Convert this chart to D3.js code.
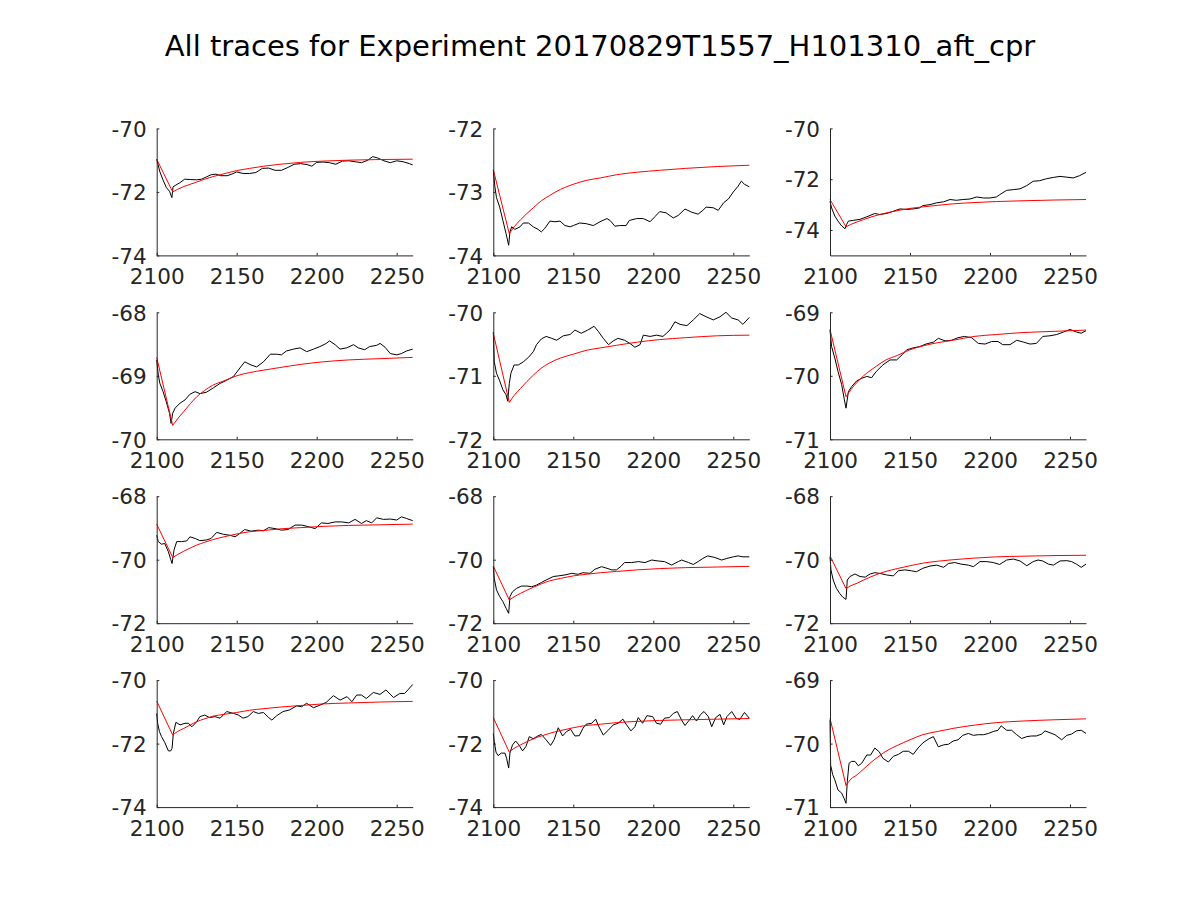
<!DOCTYPE html>
<html>
<head>
<meta charset="utf-8">
<script src="https://cdn.jsdelivr.net/npm/d3@7"></script>
<style>
  html, body { margin: 0; padding: 0; background: #fff; }
  svg { display: block; font-family: "DejaVu Sans", sans-serif; }
</style>
</head>
<body>
<svg id="chart" width="1200" height="900"></svg>
<script>
// ---------------- data ----------------
const titleText = "All traces for Experiment 20170829T1557_H101310_aft_cpr";
const xDomain = [2100, 2260];
const xTicks = [2100, 2150, 2200, 2250];

const yDomains = [
  [-74, -70], [-74, -72], [-75, -70],
  [-70, -68], [-72, -70], [-71, -69],
  [-72, -68], [-72, -68], [-72, -68],
  [-74, -70], [-74, -70], [-71, -69]
];
const yTicks = [
  [-74, -72, -70], [-74, -73, -72], [-74, -72, -70],
  [-70, -69, -68], [-72, -71, -70], [-71, -70, -69],
  [-72, -70, -68], [-72, -70, -68], [-72, -70, -68],
  [-74, -72, -70], [-74, -72, -70], [-71, -70, -69]
];

// recorded traces (time ms, membrane potential mV)
const trace1 = [[2100,-70.97],[2102,-71.37],[2104,-71.63],[2106,-71.86],[2108,-71.98],[2109.5,-72.18],[2110.2,-71.84],[2111.5,-71.80],[2114.5,-71.71],[2117.5,-71.60],[2121,-71.61],[2125,-71.62],[2128,-71.60],[2131,-71.53],[2134,-71.46],[2137,-71.44],[2140,-71.49],[2144,-71.49],[2147,-71.44],[2150,-71.37],[2154,-71.42],[2158,-71.42],[2162,-71.39],[2166,-71.26],[2170,-71.25],[2174,-71.32],[2178,-71.32],[2182,-71.23],[2186,-71.13],[2190,-71.11],[2194,-71.14],[2197,-71.19],[2200,-71.07],[2204,-71.06],[2208,-71.08],[2212,-71.13],[2216,-71.03],[2220,-71.02],[2224,-71.05],[2228,-71.08],[2232,-71.00],[2235,-70.89],[2238,-70.93],[2242,-71.02],[2246,-71.08],[2250,-71.02],[2254,-71.05],[2258,-71.11],[2260,-71.15]];
const trace2 = [[2100,-72.66],[2101,-72.92],[2102,-73.09],[2104,-73.24],[2106,-73.45],[2108,-73.66],[2109.6,-73.84],[2110.4,-73.63],[2111.5,-73.55],[2113.5,-73.59],[2116.7,-73.55],[2118.75,-73.49],[2122,-73.49],[2125,-73.55],[2128,-73.59],[2130,-73.63],[2132,-73.58],[2135.4,-73.46],[2138.5,-73.47],[2141.7,-73.46],[2144.8,-73.53],[2148,-73.55],[2150,-73.53],[2154,-73.49],[2158,-73.50],[2162.5,-73.53],[2166.7,-73.47],[2171,-73.42],[2173,-73.45],[2176,-73.54],[2179,-73.53],[2183,-73.53],[2185,-73.45],[2189.6,-73.42],[2193.75,-73.42],[2198,-73.47],[2201,-73.39],[2204,-73.31],[2208,-73.33],[2212.5,-73.41],[2215.6,-73.37],[2219.8,-73.27],[2224,-73.32],[2228,-73.35],[2231,-73.29],[2233,-73.24],[2237.5,-73.25],[2240.6,-73.29],[2244,-73.17],[2247,-73.11],[2250,-73.00],[2253,-72.91],[2255,-72.83],[2257,-72.88],[2260,-72.92]];
const trace3 = [[2100,-72.87],[2101,-73.13],[2103,-73.45],[2105,-73.65],[2107.3,-73.84],[2109.4,-73.95],[2110.4,-73.78],[2111.5,-73.65],[2114.6,-73.62],[2118.75,-73.58],[2123,-73.48],[2128,-73.35],[2131,-73.39],[2135.4,-73.35],[2139.6,-73.26],[2143.75,-73.17],[2148,-73.19],[2152,-73.17],[2156,-73.13],[2158,-73.04],[2162.5,-73.00],[2166.7,-72.93],[2171,-72.89],[2175,-72.80],[2179,-72.83],[2183,-72.80],[2187.5,-72.78],[2191.7,-72.70],[2196,-72.74],[2200,-72.74],[2204,-72.70],[2206,-72.61],[2210.4,-72.44],[2214.6,-72.41],[2218.75,-72.38],[2223,-72.25],[2227,-72.08],[2231,-72.06],[2235.4,-71.98],[2239.6,-71.93],[2243.75,-71.89],[2248,-71.92],[2252,-71.95],[2256,-71.86],[2260,-71.73]];
const trace4 = [[2100,-68.75],[2101,-68.99],[2102,-69.12],[2104,-69.25],[2106,-69.41],[2108,-69.59],[2109,-69.75],[2110,-69.59],[2111.5,-69.51],[2114.6,-69.43],[2117.7,-69.38],[2120.8,-69.29],[2124,-69.25],[2127,-69.28],[2131,-69.26],[2135.4,-69.19],[2139.6,-69.12],[2143.75,-69.07],[2148,-69.01],[2151,-68.91],[2155,-68.78],[2159,-68.83],[2162.5,-68.86],[2166.7,-68.78],[2171,-68.66],[2175,-68.66],[2178,-68.67],[2181,-68.61],[2185.4,-68.58],[2189.6,-68.56],[2193.75,-68.62],[2198,-68.58],[2202,-68.54],[2206,-68.49],[2208,-68.45],[2211.5,-68.51],[2214.6,-68.58],[2218.75,-68.56],[2223,-68.51],[2226,-68.56],[2230,-68.59],[2233,-68.54],[2237.5,-68.52],[2239.6,-68.49],[2242.7,-68.55],[2246,-68.65],[2250,-68.67],[2253,-68.65],[2256,-68.61],[2260,-68.58]];
const trace5 = [[2100,-70.31],[2100.6,-70.78],[2102,-70.96],[2104,-71.08],[2106,-71.22],[2108,-71.30],[2109,-71.40],[2110,-71.12],[2111,-70.96],[2113,-70.83],[2115.6,-70.83],[2118.75,-70.78],[2122,-70.71],[2125,-70.62],[2127,-70.51],[2130,-70.42],[2133,-70.38],[2136.5,-70.41],[2139.6,-70.44],[2143.75,-70.37],[2148,-70.35],[2151,-70.28],[2155,-70.33],[2159,-70.28],[2163,-70.22],[2165.6,-70.30],[2168.75,-70.41],[2172,-70.51],[2175,-70.45],[2178,-70.41],[2182,-70.44],[2185.4,-70.49],[2188.5,-70.55],[2191.7,-70.51],[2193.75,-70.36],[2198,-70.38],[2202,-70.36],[2206,-70.38],[2210.4,-70.28],[2213.5,-70.15],[2216.7,-70.19],[2221,-70.21],[2225,-70.12],[2229,-70.02],[2233,-70.07],[2237.5,-70.12],[2241.7,-70.07],[2245.4,-70.00],[2249,-70.09],[2253,-70.12],[2256,-70.19],[2260,-70.08]];
const trace6 = [[2100,-69.28],[2101,-69.54],[2103,-69.72],[2105,-69.93],[2107.3,-70.14],[2109,-70.38],[2110,-70.51],[2111.5,-70.25],[2113.5,-70.17],[2116.7,-70.08],[2119.8,-70.04],[2123,-70.01],[2126,-70.03],[2129,-69.93],[2133,-69.83],[2137.5,-69.75],[2141.7,-69.75],[2145,-69.67],[2148,-69.59],[2152,-69.56],[2156,-69.54],[2160,-69.50],[2164.6,-69.47],[2167.7,-69.41],[2172,-69.45],[2176,-69.44],[2180,-69.40],[2184,-69.38],[2188.5,-69.40],[2192.7,-69.49],[2197,-69.50],[2201,-69.46],[2205,-69.46],[2208,-69.51],[2212.5,-69.51],[2216.7,-69.44],[2221,-69.47],[2225,-69.50],[2229,-69.49],[2233,-69.38],[2237.5,-69.37],[2241.7,-69.35],[2246,-69.31],[2250,-69.27],[2254,-69.31],[2257,-69.33],[2260,-69.29]];
const trace7 = [[2100,-69.23],[2101,-69.43],[2103,-69.51],[2105,-69.49],[2107.3,-69.75],[2108.75,-69.99],[2109.6,-70.12],[2110.8,-69.70],[2112.5,-69.43],[2115.6,-69.43],[2118.75,-69.41],[2120.8,-69.28],[2124,-69.33],[2127,-69.40],[2131,-69.38],[2134,-69.33],[2137.5,-69.14],[2141.7,-69.20],[2145.8,-69.23],[2149,-69.28],[2152,-69.17],[2155,-69.05],[2159,-69.10],[2163.5,-69.07],[2166.7,-69.09],[2170,-68.99],[2174,-69.02],[2178,-69.07],[2182,-69.05],[2186.5,-68.91],[2190.6,-68.91],[2194.8,-68.96],[2199,-69.02],[2203,-68.84],[2207,-68.86],[2211.5,-68.81],[2215.6,-68.81],[2220,-68.84],[2224,-68.73],[2228,-68.86],[2231,-68.77],[2234.4,-68.84],[2237.5,-68.68],[2241.7,-68.73],[2246,-68.72],[2250,-68.75],[2253,-68.65],[2256,-68.70],[2260,-68.77]];
const trace8 = [[2100,-70.20],[2100.6,-70.59],[2102,-70.95],[2104,-71.16],[2106,-71.32],[2108,-71.53],[2109.6,-71.69],[2110.4,-71.16],[2112,-71.01],[2114.6,-70.90],[2117.7,-70.83],[2121,-70.83],[2124,-70.85],[2127,-70.80],[2130,-70.72],[2133,-70.64],[2137.5,-70.53],[2140.6,-70.51],[2144.8,-70.48],[2149,-70.43],[2153,-70.46],[2156,-70.41],[2160.4,-70.43],[2163.5,-70.30],[2167.7,-70.22],[2171,-70.27],[2174,-70.32],[2177,-70.32],[2180,-70.20],[2182,-70.09],[2186.5,-70.09],[2190.6,-70.06],[2194.8,-70.09],[2199,-70.01],[2203,-70.04],[2207,-70.06],[2211.5,-70.17],[2215.6,-70.06],[2217.7,-70.01],[2222,-70.09],[2225,-70.15],[2228,-70.06],[2231,-69.96],[2234,-69.88],[2238.5,-69.93],[2242.7,-70.01],[2246,-69.96],[2250,-69.91],[2253,-69.88],[2256,-69.91],[2260,-69.91]];
const trace9 = [[2100,-69.91],[2100.6,-70.32],[2102,-70.64],[2104,-70.90],[2106,-71.06],[2108,-71.18],[2110,-71.25],[2110.8,-70.64],[2112.5,-70.53],[2115.6,-70.45],[2118.75,-70.53],[2122,-70.55],[2125,-70.45],[2128,-70.41],[2131,-70.43],[2135.4,-70.48],[2139.6,-70.51],[2142.7,-70.35],[2146.8,-70.32],[2151,-70.35],[2154,-70.38],[2158,-70.27],[2162.5,-70.20],[2166.7,-70.17],[2171,-70.24],[2174,-70.12],[2178,-70.09],[2182,-70.14],[2186.5,-70.17],[2189.6,-70.22],[2193.75,-70.06],[2198,-70.06],[2202,-70.09],[2206,-70.15],[2210.4,-70.01],[2214.6,-69.98],[2218.75,-70.04],[2223,-70.19],[2227,-70.06],[2230,-70.01],[2233,-70.04],[2236.5,-70.14],[2239.6,-70.17],[2243.75,-70.04],[2248,-70.03],[2251,-70.06],[2254,-70.14],[2257,-70.24],[2260,-70.14]];
const trace10 = [[2100,-71.05],[2100.6,-71.36],[2101.7,-71.62],[2103,-71.78],[2105,-71.96],[2107.3,-72.23],[2108.75,-72.23],[2109.6,-72.15],[2110.4,-71.68],[2112,-71.33],[2114.6,-71.41],[2117.7,-71.36],[2119.8,-71.36],[2122,-71.47],[2125,-71.31],[2127,-71.15],[2130,-71.10],[2133,-71.18],[2136.5,-71.15],[2139.6,-71.20],[2143.75,-70.99],[2148,-71.05],[2151,-71.10],[2154,-71.20],[2157,-71.15],[2160.4,-70.99],[2163.5,-71.05],[2166.7,-71.02],[2170,-71.18],[2172,-71.26],[2175,-71.12],[2179,-70.99],[2183,-70.94],[2187.5,-70.81],[2190.6,-70.84],[2193.75,-70.73],[2198,-70.87],[2202,-70.79],[2206,-70.70],[2210.4,-70.49],[2214.6,-70.63],[2219,-70.52],[2222,-70.68],[2225,-70.47],[2228,-70.47],[2231,-70.58],[2235.4,-70.39],[2239.6,-70.45],[2243.3,-70.31],[2248,-70.55],[2252,-70.42],[2255,-70.42],[2257,-70.31],[2260,-70.14]];
const trace11 = [[2100,-71.68],[2100.6,-71.94],[2101.7,-72.27],[2103,-72.38],[2105,-72.30],[2107.3,-72.30],[2108.3,-72.46],[2109.6,-72.77],[2110.4,-72.30],[2112,-72.04],[2114,-71.92],[2116,-72.04],[2118.3,-72.23],[2120.4,-72.09],[2122.5,-71.78],[2125,-71.85],[2127,-71.78],[2130,-71.71],[2133,-71.88],[2135.8,-72.06],[2138,-71.88],[2140.6,-71.50],[2143.3,-71.76],[2145.8,-71.62],[2148.3,-71.55],[2151,-71.76],[2153.75,-71.75],[2156,-71.52],[2158,-71.39],[2161.5,-71.36],[2164,-71.23],[2166,-71.47],[2168.75,-71.73],[2172,-71.57],[2175,-71.41],[2178,-71.36],[2181,-71.23],[2183,-71.39],[2186,-71.60],[2188.5,-71.47],[2190.6,-71.18],[2193.3,-71.36],[2196,-71.12],[2199.6,-71.15],[2202,-71.36],[2204.6,-71.39],[2207,-71.20],[2210,-71.18],[2212.5,-71.05],[2215,-70.99],[2217.7,-71.26],[2219.8,-71.43],[2222.5,-71.26],[2224.6,-71.12],[2227,-71.29],[2229.6,-71.08],[2231.7,-70.99],[2234.4,-71.15],[2236.5,-71.47],[2239,-71.18],[2241.7,-71.08],[2244,-71.41],[2246,-71.15],[2249,-70.99],[2251.7,-71.20],[2254,-71.24],[2257,-71.02],[2260,-71.20]];
const trace12 = [[2100,-69.63],[2100.4,-70.34],[2101.7,-70.49],[2103,-70.57],[2105,-70.73],[2107.3,-70.78],[2108.75,-70.86],[2110,-70.94],[2110.8,-70.60],[2111.9,-70.31],[2113.5,-70.28],[2115.6,-70.28],[2117.7,-70.35],[2119.8,-70.31],[2123,-70.18],[2125.4,-70.18],[2128,-70.07],[2130.8,-70.13],[2133,-70.23],[2136.5,-70.29],[2139.6,-70.20],[2142.7,-70.17],[2145.8,-70.12],[2149,-70.12],[2152,-70.17],[2155,-70.07],[2158,-69.99],[2161.5,-69.93],[2164.6,-69.89],[2167.7,-70.05],[2171,-70.02],[2174,-70.01],[2177,-69.96],[2180,-69.94],[2183,-69.87],[2186.5,-69.84],[2189.6,-69.87],[2192.7,-69.86],[2196,-69.86],[2199,-69.84],[2202,-69.81],[2205,-69.79],[2207,-69.72],[2210.4,-69.79],[2213.5,-69.79],[2216.7,-69.86],[2219.8,-69.92],[2223,-69.89],[2226,-69.88],[2229,-69.88],[2232.3,-69.85],[2234.4,-69.80],[2237.5,-69.83],[2240.6,-69.86],[2244.8,-69.94],[2248,-69.87],[2251,-69.85],[2254,-69.80],[2257,-69.79],[2260,-69.84]];

// fitted curves (red), sampled at fitTimes
const fitTimes = [2100, 2110, 2113, 2117, 2121, 2125, 2130, 2135, 2142, 2150, 2158, 2167, 2177, 2190, 2204, 2220, 2240, 2260];
const fit1  = [-70.97,-72.00,-71.92,-71.83,-71.76,-71.69,-71.60,-71.52,-71.43,-71.33,-71.26,-71.19,-71.13,-71.07,-71.03,-71.00,-70.98,-70.97];
const fit2  = [-72.65,-73.66,-73.55,-73.44,-73.34,-73.25,-73.14,-73.06,-72.96,-72.88,-72.82,-72.78,-72.73,-72.69,-72.66,-72.63,-72.60,-72.58];
const fit3  = [-72.80,-73.87,-73.78,-73.68,-73.59,-73.50,-73.41,-73.33,-73.24,-73.15,-73.09,-73.03,-72.97,-72.92,-72.88,-72.85,-72.82,-72.80];
const fit4  = [-68.71,-69.78,-69.68,-69.56,-69.44,-69.33,-69.23,-69.15,-69.08,-69.00,-68.95,-68.91,-68.87,-68.82,-68.78,-68.75,-68.73,-68.71];
const fit5  = [-70.33,-71.42,-71.31,-71.20,-71.09,-70.99,-70.88,-70.80,-70.72,-70.66,-70.60,-70.56,-70.52,-70.47,-70.43,-70.40,-70.37,-70.36];
const fit6  = [-69.27,-70.33,-70.22,-70.10,-70.00,-69.92,-69.83,-69.75,-69.68,-69.59,-69.53,-69.48,-69.44,-69.38,-69.35,-69.32,-69.30,-69.28];
const fit7  = [-68.88,-69.93,-69.84,-69.73,-69.63,-69.54,-69.45,-69.37,-69.28,-69.19,-69.12,-69.08,-69.03,-68.99,-68.95,-68.92,-68.90,-68.88];
const fit8  = [-70.20,-71.27,-71.17,-71.06,-70.96,-70.87,-70.76,-70.67,-70.59,-70.51,-70.46,-70.41,-70.37,-70.32,-70.28,-70.25,-70.23,-70.21];
const fit9  = [-69.88,-70.91,-70.82,-70.74,-70.64,-70.55,-70.45,-70.37,-70.28,-70.19,-70.11,-70.05,-70.00,-69.95,-69.91,-69.89,-69.87,-69.86];
const fit10 = [-70.66,-71.73,-71.62,-71.52,-71.41,-71.31,-71.22,-71.14,-71.08,-71.02,-70.95,-70.90,-70.85,-70.80,-70.75,-70.72,-70.69,-70.67];
const fit11 = [-71.18,-72.27,-72.15,-72.04,-71.94,-71.85,-71.76,-71.68,-71.59,-71.50,-71.43,-71.39,-71.34,-71.30,-71.27,-71.25,-71.23,-71.21];
const fit12 = [-69.60,-70.66,-70.56,-70.49,-70.40,-70.31,-70.21,-70.12,-70.03,-69.94,-69.86,-69.81,-69.76,-69.71,-69.67,-69.645,-69.625,-69.61];

const traces = [trace1, trace2, trace3, trace4, trace5, trace6, trace7, trace8, trace9, trace10, trace11, trace12];
const fits = [fit1, fit2, fit3, fit4, fit5, fit6, fit7, fit8, fit9, fit10, fit11, fit12];

// ---------------- layout ----------------
const colLeft = [156.7, 493.3, 830];
const rowTop = [128.4, 312.3, 496.2, 680.1];
const plotW = 256, plotH = 127;
const axisColor = "#262626";
const tickFont = 21.5;
const fmt = d => String(d);   // plain hyphen-minus, as in the original

const svg = d3.select("#chart");

svg.append("text")
  .attr("x", 600).attr("y", 56)
  .attr("text-anchor", "middle")
  .attr("font-size", 29)
  .attr("fill", "#000")
  .text(titleText);

traces.forEach((tr, i) => {
  const r = Math.floor(i / 3), c = i % 3;
  const g = svg.append("g").attr("transform", `translate(${colLeft[c]},${rowTop[r]})`);
  const x = d3.scaleLinear().domain(xDomain).range([0, plotW]);
  const y = d3.scaleLinear().domain(yDomains[i]).range([plotH, 0]);

  const line = d3.line().x(d => x(d[0])).y(d => y(d[1]));
  g.append("path").datum(tr)
    .attr("d", line)
    .attr("fill", "none").attr("stroke", "#000").attr("stroke-width", 1)
    .attr("stroke-linejoin", "round");

  const fitPts = fitTimes.map((t, k) => [t, fits[i][k]]);
  g.append("path").datum(fitPts.slice(0, 2))
    .attr("d", line)
    .attr("fill", "none").attr("stroke", "#ff0000").attr("stroke-width", 1);
  g.append("path").datum(fitPts.slice(1))
    .attr("d", d3.line().x(d => x(d[0])).y(d => y(d[1])).curve(d3.curveMonotoneX))
    .attr("fill", "none").attr("stroke", "#ff0000").attr("stroke-width", 1);

  const xa = g.append("g").attr("transform", `translate(0,${plotH})`)
    .call(d3.axisBottom(x).tickValues(xTicks).tickFormat(fmt)
      .tickSizeInner(-2.6).tickSizeOuter(0).tickPadding(13.5));
  const ya = g.append("g")
    .call(d3.axisLeft(y).tickValues(yTicks[i]).tickFormat(fmt)
      .tickSizeInner(-2.6).tickSizeOuter(0).tickPadding(10));
  [xa, ya].forEach(a => {
    a.attr("font-family", "DejaVu Sans").attr("font-size", tickFont);
    a.selectAll("path, line").attr("stroke", axisColor).attr("stroke-width", 1);
    a.selectAll("text").attr("fill", axisColor);
  });
  ya.selectAll("text").attr("dy", "0.36em");
});
</script>
</body>
</html>
